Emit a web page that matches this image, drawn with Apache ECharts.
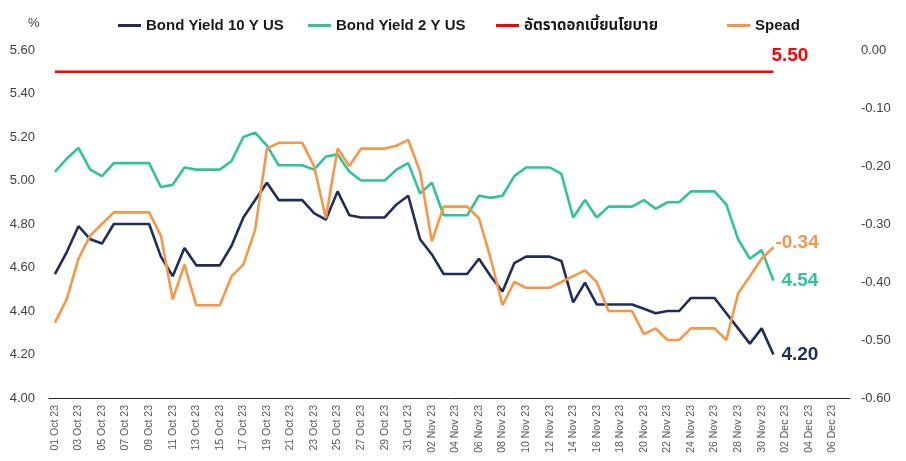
<!DOCTYPE html>
<html>
<head>
<meta charset="utf-8">
<script src="https://cdn.jsdelivr.net/npm/echarts@6/dist/echarts.min.js"></script>
<style>
html,body{margin:0;padding:0;background:#ffffff;}
#chart{width:906px;height:461px;}
</style>
</head>
<body>
<div id="chart"></div>
<script>
const categories = [
"01 Oct 23","02 Oct 23","03 Oct 23","04 Oct 23","05 Oct 23","06 Oct 23","07 Oct 23","08 Oct 23","09 Oct 23","10 Oct 23",
"11 Oct 23","12 Oct 23","13 Oct 23","14 Oct 23","15 Oct 23","16 Oct 23","17 Oct 23","18 Oct 23","19 Oct 23","20 Oct 23",
"21 Oct 23","22 Oct 23","23 Oct 23","24 Oct 23","25 Oct 23","26 Oct 23","27 Oct 23","28 Oct 23","29 Oct 23","30 Oct 23",
"31 Oct 23","01 Nov 23","02 Nov 23","03 Nov 23","04 Nov 23","05 Nov 23","06 Nov 23","07 Nov 23","08 Nov 23","09 Nov 23",
"10 Nov 23","11 Nov 23","12 Nov 23","13 Nov 23","14 Nov 23","15 Nov 23","16 Nov 23","17 Nov 23","18 Nov 23","19 Nov 23",
"20 Nov 23","21 Nov 23","22 Nov 23","23 Nov 23","24 Nov 23","25 Nov 23","26 Nov 23","27 Nov 23","28 Nov 23","29 Nov 23",
"30 Nov 23","01 Dec 23","02 Dec 23","03 Dec 23","04 Dec 23","05 Dec 23","06 Dec 23","07 Dec 23"
];

const bond10Y = [
4.57,4.67,4.79,4.73,4.71,4.80,4.80,4.80,4.80,4.65,
4.56,4.69,4.61,4.61,4.61,4.70,4.83,4.91,4.99,4.91,
4.91,4.91,4.85,4.82,4.95,4.84,4.83,4.83,4.83,4.89,
4.93,4.73,4.66,4.57,4.57,4.57,4.64,4.56,4.49,4.62,
4.65,4.65,4.65,4.63,4.44,4.53,4.43,4.43,4.43,4.43,
4.41,4.39,4.40,4.40,4.46,4.46,4.46,4.39,4.32,4.25,
4.32,4.20
];

const bond2Y = [
5.04,5.10,5.15,5.05,5.02,5.08,5.08,5.08,5.08,4.97,
4.98,5.06,5.05,5.05,5.05,5.09,5.20,5.22,5.16,5.07,
5.07,5.07,5.05,5.11,5.12,5.04,5.00,5.00,5.00,5.05,
5.08,4.94,4.99,4.84,4.84,4.84,4.93,4.92,4.93,5.02,
5.06,5.06,5.06,5.03,4.83,4.91,4.83,4.88,4.88,4.88,
4.91,4.87,4.90,4.90,4.95,4.95,4.95,4.89,4.73,4.64,
4.68,4.54
];

const policyRate = [
5.50,5.50,5.50,5.50,5.50,5.50,5.50,5.50,5.50,5.50,
5.50,5.50,5.50,5.50,5.50,5.50,5.50,5.50,5.50,5.50,
5.50,5.50,5.50,5.50,5.50,5.50,5.50,5.50,5.50,5.50,
5.50,5.50,5.50,5.50,5.50,5.50,5.50,5.50,5.50,5.50,
5.50,5.50,5.50,5.50,5.50,5.50,5.50,5.50,5.50,5.50,
5.50,5.50,5.50,5.50,5.50,5.50,5.50,5.50,5.50,5.50,
5.50,5.50
];

const spread = [
-0.47,-0.43,-0.36,-0.32,-0.30,-0.28,-0.28,-0.28,-0.28,-0.32,
-0.43,-0.37,-0.44,-0.44,-0.44,-0.39,-0.37,-0.31,-0.17,-0.16,
-0.16,-0.16,-0.20,-0.29,-0.17,-0.20,-0.17,-0.17,-0.17,-0.165,
-0.155,-0.21,-0.33,-0.27,-0.27,-0.27,-0.29,-0.36,-0.44,-0.40,
-0.41,-0.41,-0.41,-0.40,-0.39,-0.38,-0.40,-0.45,-0.45,-0.45,
-0.49,-0.48,-0.50,-0.50,-0.48,-0.48,-0.48,-0.50,-0.42,-0.39,
-0.36,-0.34
];

const leftTicks = {min: 4.0, max: 5.6, interval: 0.2};
const rightTicks = {min: -0.6, max: 0.0, interval: 0.1};

const names = ["Bond Yield 10 Y US", "Bond Yield 2 Y US", "อัตราดอกเบี้ยนโยบาย", "Spead"];
const colors = ["#1f2d5c", "#2fc29c", "#ff0000", "#f79646"];

const FONT = "'Liberation Sans', Arial, 'Noto Sans Thai', 'Tahoma', sans-serif";

const chart = echarts.init(document.getElementById('chart'));

function legendFor(i, left) {
  return {
    data: [names[i]],
    left: left,
    top: 13,
    itemWidth: 23,
    itemHeight: 3,
    icon: 'rect',
    textStyle: {fontFamily: FONT, fontSize: 15, fontWeight: 'bold', color: '#1a1a1a'},
    selectedMode: false
  };
}

function endLabel(color, offset, distance) {
  return {
    show: true,
    color: color,
    fontFamily: FONT,
    fontSize: 19,
    fontWeight: 'bold',
    distance: distance,
    offset: offset,
    formatter: p => Number(p.value).toFixed(2)
  };
}

chart.setOption({
  animation: false,
  backgroundColor: '#ffffff',
  textStyle: {fontFamily: FONT},
  legend: [legendFor(0, 113), legendFor(1, 303), legendFor(2, 491), legendFor(3, 722)],
  graphic: [{
    type: 'text', left: 28, top: 17,
    style: {text: '%', fontFamily: FONT, fontSize: 13, fill: '#404040'}
  }],
  grid: {left: 49, right: 56, top: 50, bottom: 63, containLabel: false},
  xAxis: {
    type: 'category',
    data: categories,
    boundaryGap: true,
    axisLine: {show: true, onZero: false, lineStyle: {color: '#262626', width: 1}},
    axisTick: {show: false},
    axisLabel: {
      interval: 1,
      rotate: 90,
      margin: 7,
      fontSize: 10.5,
      color: '#595959',
      fontFamily: FONT
    },
    splitLine: {show: false}
  },
  yAxis: [{
    type: 'value',
    min: leftTicks.min, max: leftTicks.max, interval: leftTicks.interval,
    axisLine: {show: false}, axisTick: {show: false}, splitLine: {show: false},
    axisLabel: {formatter: v => v.toFixed(2), fontSize: 13, color: '#404040', margin: 14, fontFamily: FONT}
  }, {
    type: 'value',
    min: rightTicks.min, max: rightTicks.max, interval: rightTicks.interval,
    axisLine: {show: false}, axisTick: {show: false}, splitLine: {show: false},
    axisLabel: {formatter: v => v.toFixed(2), fontSize: 13, color: '#404040', margin: 11, fontFamily: FONT}
  }],
  series: [{
    name: names[0], type: 'line', data: bond10Y, yAxisIndex: 0,
    symbol: 'none', lineStyle: {color: colors[0], width: 2.6}, itemStyle: {color: colors[0]},
    endLabel: endLabel(colors[0], [0, 0], 8)
  }, {
    name: names[1], type: 'line', data: bond2Y, yAxisIndex: 0,
    symbol: 'none', lineStyle: {color: colors[1], width: 2.6}, itemStyle: {color: colors[1]},
    endLabel: endLabel(colors[1], [0, 0], 8)
  }, {
    name: names[2], type: 'line', data: policyRate, yAxisIndex: 0,
    symbol: 'none', lineStyle: {color: colors[2], width: 2.6}, itemStyle: {color: colors[2]},
    endLabel: endLabel(colors[2], [-8, -16], 6)
  }, {
    name: names[3], type: 'line', data: spread, yAxisIndex: 1,
    symbol: 'none', lineStyle: {color: colors[3], width: 2.6}, itemStyle: {color: colors[3]},
    endLabel: endLabel(colors[3], [-4, -4], 6)
  }]
});
</script>
</body>
</html>
